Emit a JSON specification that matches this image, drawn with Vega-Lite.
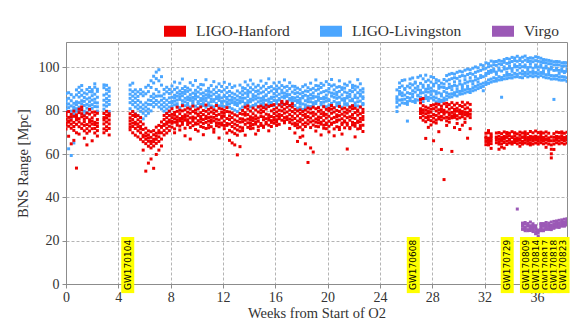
{
"$schema": "https://vega.github.io/schema/vega-lite/v6.json",
"width": 501, "height": 242,
"autosize": {"type": "none"},
"padding": {"left": 66, "top": 42, "right": 4, "bottom": 37},
"background": "white",
"config": {
 "view": {"stroke": "#8c8c8c", "strokeWidth": 1},
 "font": "Liberation Serif",
 "axis": {"grid": true, "gridDash": [3, 2], "gridColor": "#b4b4b4", "domainColor": "#8c8c8c", "tickColor": "#8c8c8c", "tickSize": 4, "labelFont": "Liberation Serif", "labelFontSize": 14, "labelColor": "#333", "titleFont": "Liberation Serif", "titleFontSize": 14.5, "titleFontWeight": "normal", "titleColor": "#333", "labelFlush": false, "labelOverlap": false}
},
"datasets": {
 "ev": [{"i":0,"n":"GW170104","w":4.72},{"i":1,"n":"GW170608","w":26.55},{"i":2,"n":"GW170729","w":33.73},{"i":3,"n":"GW170809","w":35.2},{"i":4,"n":"GW170814","w":35.96},{"i":5,"n":"GW170817","w":36.7},{"i":6,"n":"GW170818","w":37.3},{"i":7,"n":"GW170823","w":38.0}],
 "pts": [
{"w":0.0,"H":[74.3,77.8,71.6,79.2,76.1,73.4],"L":[80.7,84.2,87.9,78.3,82.6,85.1]},
{"w":0.2,"H":[72.8,76.9,79.6,74.7,68.2,75.3],"L":[81.4,85.7,88.3,62.4,83.1,79.6]},
{"w":0.4,"H":[75.6,71.9,78.3,73.8,64.7,77.1],"L":[79.8,84.6,76.9,59.3,82.2,87.4]},
{"w":0.6,"H":[70.9,74.6,77.4,79.8,72.7,66.3],"L":[78.6,83.4,86.2,80.9,65.1,81.7]},
{"w":0.8,"H":[73.7,78.1,75.8,69.8,53.5,76.9],"L":[80.9,84.1,87.3,79.7,82.8,89.6]},
{"w":1.0,"H":[76.3,72.6,79.1,80.7,74.8,69.2],"L":[81.6,86.3,88.4,83.7,79.9,90.8]},
{"w":1.2,"H":[77.2,80.4,73.9,71.8,78.6,81.7],"L":[83.2,87.1,89.4,84.6,81.3,91.6]},
{"w":1.4,"H":[74.9,70.7,77.6,73.2,67.3,76.1],"L":[79.7,84.3,86.1,82.4,78.1,88.2]},
{"w":1.6,"H":[73.6,76.8,71.7,78.9,69.6,64.2],"L":[81.2,85.4,87.7,82.9,79.3,89.8]},
{"w":1.8,"H":[75.8,72.9,78.4,70.6,74.7,80.6],"L":[82.3,85.9,88.8,84.1,80.4,90.7]},
{"w":2.0,"H":[76.7,73.8,79.3,71.7,66.1,75.2],"L":[82.8,86.9,89.7,84.9,81.1,88.6]},
{"w":2.2,"H":[74.6,71.8,77.9,73.6,69.7,79.4],"L":[83.7,87.6,90.8,85.3,81.9,92.4]},
{"w":2.4,"H":[75.9,72.7,78.8,70.8,74.2,68.3],"L":[81.8,86.2,88.9,83.6,79.8,89.9]},
{"w":2.9,"H":[76.8,73.9,78.7,71.6,75.7,69.8],"L":[82.6,87.2,90.6,84.8,80.7,91.9]},
{"w":3.1,"H":[74.8,72.6,77.9,70.9,76.6,79.7],"L":[83.9,87.8,91.7,85.6,82.1,89.7]},
{"w":3.3,"H":[75.7,71.8,77.6,73.9,68.8,78.6],"L":[82.9,86.7,90.4,84.7,79.6,88.9]},
{"w":4.9,"H":[73.8,76.7,71.2,78.6,75.3,72.4],"L":[83.7,87.6,91.8,80.9,85.7,89.6]},
{"w":5.1,"H":[72.7,75.9,77.8,69.8,74.3,79.6],"L":[82.8,86.7,92.7,84.6,79.7,88.8]},
{"w":5.3,"H":[71.8,74.6,77.3,68.7,73.8,78.4],"L":[81.7,85.8,89.6,83.8,78.6,87.7]},
{"w":5.5,"H":[70.7,73.9,75.8,67.9,72.6,77.7],"L":[80.8,84.7,88.7,82.6,77.8,86.6]},
{"w":5.7,"H":[69.8,72.7,74.9,66.8,71.6,76.8],"L":[79.7,83.9,87.8,81.6,76.9,89.7]},
{"w":5.9,"H":[68.7,71.3,73.8,65.7,67.9,61.8],"L":[78.8,82.7,86.9,80.8,76.2,88.6]},
{"w":6.1,"H":[66.8,69.7,71.9,64.8,68.3,52.1],"L":[79.9,83.6,87.8,81.7,77.7,90.8]},
{"w":6.3,"H":[65.9,68.8,70.7,63.6,67.4,55.8],"L":[80.7,84.9,88.8,82.9,78.8,91.7]},
{"w":6.5,"H":[64.8,67.7,70.3,62.8,65.9,57.7],"L":[82.8,86.6,90.7,84.7,79.9,93.8]},
{"w":6.7,"H":[65.7,68.9,70.8,63.7,66.8,53.4],"L":[83.8,87.7,92.8,85.9,81.8,95.9]},
{"w":6.9,"H":[66.8,69.6,72.4,64.9,68.2,59.8],"L":[84.7,89.8,94.8,86.7,82.9,97.8]},
{"w":7.1,"H":[67.9,70.8,73.2,65.8,69.7,61.8],"L":[83.9,88.7,93.8,86.8,81.7,98.9]},
{"w":7.3,"H":[69.8,72.3,74.8,66.9,72.7,63.7],"L":[82.7,86.8,91.8,84.8,80.8,95.7]},
{"w":7.5,"H":[70.8,73.7,75.9,68.8,73.2,77.8],"L":[81.8,85.7,89.8,83.7,79.8,87.7]},
{"w":7.7,"H":[71.9,74.8,76.8,69.7,73.8,78.7],"L":[80.8,84.8,88.7,82.7,78.9,90.8]},
{"w":7.9,"H":[72.8,75.7,77.8,70.8,74.7,79.8],"L":[81.7,85.9,89.8,83.8,79.7,87.9]},
{"w":8.1,"H":[72.4,75.1,76.8,78.3,80.9,74.2],"L":[81.9,84.3,86.2,88.7,91.4,83.5]},
{"w":8.3,"H":[71.6,74.7,77.9,79.2,76.3,69.8],"L":[82.7,85.9,87.1,89.8,84.4,93.2]},
{"w":8.5,"H":[73.3,75.8,77.2,81.6,79.7,74.6],"L":[83.2,84.9,88.3,86.7,90.6,82.1]},
{"w":8.7,"H":[72.9,76.4,78.6,75.3,80.2,71.1],"L":[81.4,85.2,87.6,89.1,92.7,86.3]},
{"w":8.9,"H":[74.8,77.3,73.7,79.9,76.1,82.3],"L":[84.6,86.9,83.1,90.2,88.4,94.6]},
{"w":9.1,"H":[71.9,75.6,78.1,76.9,80.4,68.4],"L":[82.3,85.7,87.9,84.1,91.1,89.3]},
{"w":9.3,"H":[73.6,74.9,77.6,79.3,81.2,75.8],"L":[83.4,86.3,88.9,82.6,90.4,85.1]},
{"w":9.5,"H":[72.2,76.7,78.8,74.4,80.7,66.9],"L":[81.7,84.8,87.4,85.9,89.6,92.9]},
{"w":9.7,"H":[75.2,77.1,73.1,79.6,82.1,76.2],"L":[83.9,86.1,88.1,82.9,91.7,84.6]},
{"w":9.9,"H":[71.3,74.3,76.6,78.9,80.3,73.8],"L":[82.1,85.4,86.7,89.4,87.8,93.9]},
{"w":10.1,"H":[73.9,75.4,77.7,80.8,78.4,70.6],"L":[81.3,84.2,88.6,86.4,90.8,83.3]},
{"w":10.3,"H":[72.7,76.2,74.8,79.1,81.7,77.3],"L":[82.9,85.6,87.8,89.9,84.7,92.1]},
{"w":10.5,"H":[74.1,75.9,78.2,72.3,80.1,68.9],"L":[83.7,86.6,88.2,82.4,91.9,85.2]},
{"w":10.7,"H":[71.8,74.6,77.4,79.7,76.4,82.6],"L":[81.6,84.6,87.3,89.2,85.8,94.3]},
{"w":10.9,"H":[73.4,76.8,75.2,78.6,80.6,72.1],"L":[82.5,86.2,88.9,83.6,90.3,87.4]},
{"w":11.1,"H":[74.6,72.6,77.1,79.4,81.3,75.7],"L":[84.1,82.2,86.8,88.6,91.6,85.3]},
{"w":11.3,"H":[71.4,75.3,76.9,78.7,80.4,70.1],"L":[81.8,85.1,87.6,89.7,84.3,93.4]},
{"w":11.5,"H":[73.1,74.4,77.8,76.1,79.8,82.4],"L":[83.3,86.4,88.4,82.7,90.9,85.6]},
{"w":11.7,"H":[72.6,75.7,78.3,74.1,81.1,67.4],"L":[82.2,84.7,87.2,86.1,89.3,92.4]},
{"w":11.9,"H":[74.3,76.6,73.4,79.2,80.8,77.6],"L":[83.6,85.9,88.8,82.3,91.2,84.2]},
{"w":12.1,"H":[71.7,75.2,77.4,78.8,80.2,73.2],"L":[81.9,84.4,87.1,89.6,86.6,93.1]},
{"w":12.3,"H":[73.2,74.1,76.4,79.6,81.4,69.7],"L":[82.8,86.1,88.3,83.9,90.7,85.4]},
{"w":12.5,"H":[70.9,73.8,75.9,77.6,79.4,66.3],"L":[81.6,84.8,86.9,88.9,83.2,92.2]},
{"w":12.7,"H":[70.2,72.7,74.6,76.8,78.9,65.1],"L":[80.9,83.7,86.2,88.1,84.9,90.7]},
{"w":12.9,"H":[69.4,71.9,73.8,75.7,78.1,64.2],"L":[80.3,82.9,85.7,87.6,84.1,91.4]},
{"w":13.1,"H":[68.7,71.1,73.2,75.1,77.6,59.6],"L":[79.6,82.4,84.9,86.8,83.3,89.1]},
{"w":13.3,"H":[70.6,72.4,74.7,76.3,78.7,63.4],"L":[80.8,83.6,86.1,88.2,84.6,91.8]},
{"w":13.5,"H":[72.1,74.9,76.2,78.4,80.1,70.8],"L":[81.7,84.2,87.3,89.1,85.7,90.6]},
{"w":13.7,"H":[73.7,75.6,77.9,79.1,81.6,68.7],"L":[82.6,85.8,88.1,83.4,90.2,93.3]},
{"w":13.9,"H":[72.3,76.1,74.4,78.2,80.7,82.2],"L":[83.4,84.6,86.6,89.3,91.8,87.9]},
{"w":14.1,"H":[74.4,73.1,77.2,79.8,75.9,71.7],"L":[81.8,85.3,88.6,84.1,90.6,94.1]},
{"w":14.3,"H":[71.9,75.4,76.7,78.6,81.2,73.6],"L":[82.4,84.9,87.4,89.7,86.2,92.3]},
{"w":14.5,"H":[73.8,74.7,77.6,80.3,76.2,69.2],"L":[83.1,86.7,85.4,88.9,90.9,82.6]},
{"w":14.7,"H":[72.6,76.6,75.1,79.4,81.8,70.9],"L":[81.6,84.1,87.7,89.2,85.9,91.7]},
{"w":14.9,"H":[74.1,73.2,77.3,78.9,80.4,82.1],"L":[82.9,85.7,88.2,84.4,90.4,93.7]},
{"w":15.1,"H":[72.9,75.8,77.1,79.6,81.4,72.3],"L":[83.7,86.4,88.7,82.3,91.3,85.1]},
{"w":15.3,"H":[74.6,76.3,73.9,78.4,80.8,82.6],"L":[81.9,84.8,87.3,89.8,86.9,92.6]},
{"w":15.5,"H":[73.3,75.7,78.1,76.8,81.9,70.7],"L":[82.7,85.4,88.4,84.2,90.7,94.7]},
{"w":15.7,"H":[75.4,77.3,74.6,79.9,82.4,72.7],"L":[83.8,86.2,89.1,82.8,91.1,85.7]},
{"w":15.9,"H":[74.2,76.9,78.7,80.6,82.8,75.6],"L":[82.3,84.7,87.9,90.1,86.3,92.8]},
{"w":16.1,"H":[75.8,77.6,79.4,81.3,74.7,73.2],"L":[83.4,86.8,88.8,84.6,91.4,89.7]},
{"w":16.3,"H":[76.3,78.3,80.2,82.7,77.1,73.7],"L":[82.6,85.6,87.6,90.4,84.9,93.1]},
{"w":16.5,"H":[75.6,77.8,79.9,81.8,83.6,84.3],"L":[84.2,86.3,89.4,83.1,91.6,88.2]},
{"w":16.7,"H":[76.8,78.9,80.7,82.9,75.3,74.4],"L":[82.9,85.9,88.1,90.8,86.7,94.2]},
{"w":16.9,"H":[77.2,79.4,81.6,83.3,75.9,84.1],"L":[83.6,86.6,89.2,84.4,91.2,87.6]},
{"w":17.1,"H":[76.1,78.2,80.3,82.4,74.6,71.8],"L":[82.2,84.9,87.4,90.2,85.6,92.9]},
{"w":17.3,"H":[75.7,77.4,79.6,81.7,83.2,73.9],"L":[83.9,86.1,88.6,82.6,91.3,85.2]},
{"w":17.5,"H":[74.2,76.4,78.8,80.6,73.1,69.7],"L":[82.4,84.6,87.9,89.6,85.9,91.2]},
{"w":17.7,"H":[73.6,75.2,77.6,79.9,72.1,65.8],"L":[81.2,83.8,86.4,88.3,84.7,90.4]},
{"w":17.9,"H":[72.4,74.9,76.3,78.7,80.4,67.7],"L":[81.7,84.2,85.6,87.8,89.7,83.1]},
{"w":18.1,"H":[71.2,73.7,75.8,77.9,79.6,68.3],"L":[80.6,83.1,85.9,88.4,86.7,91.1]},
{"w":18.3,"H":[72.7,74.4,76.9,78.3,80.3,64.7],"L":[81.4,84.6,87.1,89.1,82.7,91.9]},
{"w":18.5,"H":[73.9,75.6,77.3,79.4,81.2,56.1],"L":[82.1,85.3,86.6,88.9,90.6,84.1]},
{"w":18.7,"H":[72.2,74.8,76.6,78.9,80.8,62.8],"L":[81.9,84.1,87.4,89.7,85.7,92.7]},
{"w":18.9,"H":[73.4,75.3,77.7,79.2,81.6,60.9],"L":[82.8,85.8,88.2,83.7,90.3,86.6]},
{"w":19.1,"H":[74.7,76.2,78.4,72.8,80.9,70.6],"L":[83.3,86.4,84.2,89.4,91.6,94.2]},
{"w":19.3,"H":[72.6,75.8,77.1,79.7,81.4,74.4],"L":[81.6,84.8,87.6,89.9,86.1,91.4]},
{"w":19.5,"H":[73.8,74.7,76.8,78.6,80.2,68.8],"L":[82.7,85.6,88.3,83.8,90.7,92.6]},
{"w":19.7,"H":[71.9,75.4,77.8,79.1,81.8,73.3],"L":[83.9,86.2,88.8,82.2,91.8,85.4]},
{"w":19.9,"H":[74.3,76.6,73.6,78.3,80.6,71.7],"L":[81.8,84.4,87.2,89.2,85.8,93.4]},
{"w":20.1,"H":[72.8,75.1,77.4,79.9,81.1,70.2],"L":[82.6,85.1,88.6,84.7,90.2,92.1]},
{"w":20.3,"H":[73.7,76.3,74.2,78.8,80.7,82.4],"L":[83.4,86.7,88.1,82.4,91.4,94.4]},
{"w":20.5,"H":[71.6,74.6,76.9,79.4,81.3,68.4],"L":[81.4,84.3,87.8,89.6,86.2,91.9]},
{"w":20.7,"H":[74.9,77.2,75.6,78.1,80.1,72.6],"L":[82.3,85.7,88.4,83.6,90.8,87.2]},
{"w":20.9,"H":[72.3,75.7,77.7,79.6,81.9,71.3],"L":[83.7,86.2,88.9,82.9,91.1,93.8]},
{"w":21.1,"H":[73.6,74.3,76.3,78.4,80.8,69.2],"L":[81.6,84.9,87.3,89.8,85.4,90.6]},
{"w":21.3,"H":[72.1,75.3,77.6,79.3,81.2,74.8],"L":[82.9,85.6,88.6,84.3,90.4,92.3]},
{"w":21.5,"H":[74.2,76.8,73.3,78.9,80.4,62.3],"L":[83.2,86.6,88.2,82.6,91.7,85.9]},
{"w":21.7,"H":[71.7,75.6,77.2,79.8,81.6,72.2],"L":[81.8,84.6,87.6,89.3,86.4,93.2]},
{"w":21.9,"H":[73.4,74.6,76.7,78.2,80.9,82.3],"L":[82.4,85.3,88.8,84.6,90.6,91.7]},
{"w":22.1,"H":[72.8,76.4,74.1,79.1,81.1,67.9],"L":[83.6,86.1,87.2,89.7,82.3,91.3]},
{"w":22.3,"H":[74.6,75.2,77.9,79.7,80.3,71.6],"L":[82.2,85.8,88.3,84.1,90.9,94.3]},
{"w":22.5,"H":[71.8,74.9,76.4,78.6,81.7,73.1],"L":[81.7,84.4,87.7,89.4,86.8,92.4]},
{"w":22.7,"H":[73.3,75.9,77.3,79.2,80.6,70.4],"L":[83.3,86.4,88.6,82.8,90.1,85.6]},
{"w":25.3,"L":[83.8,86.4,89.6,81.7,85.2,79.6]},
{"w":25.5,"L":[84.9,87.6,90.7,82.6,88.9,92.8]},
{"w":25.7,"L":[83.6,86.9,91.4,85.1,88.2,93.9]},
{"w":25.9,"L":[85.3,87.2,90.2,83.4,89.8,94.2]},
{"w":26.1,"L":[84.2,88.3,91.3,86.1,82.9,75.2]},
{"w":26.3,"L":[85.8,87.9,90.6,84.6,92.4,94.6]},
{"w":26.5,"L":[86.4,89.2,91.9,84.3,87.6,95.1]},
{"w":26.7,"L":[85.1,88.6,92.7,83.8,90.4,93.2]},
{"w":26.9,"L":[86.8,89.7,91.2,84.9,87.1,95.4]},
{"w":27.1,"H":[78.7,80.9,83.6,76.8,79.8,85.2],"L":[86.2,89.4,92.6,85.3,88.1,96.1]},
{"w":27.3,"H":[77.6,80.4,82.3,75.6,79.1,85.6],"L":[85.7,88.3,91.8,84.2,90.8,94.7]},
{"w":27.5,"H":[76.8,78.6,81.7,74.9,80.2,67.2],"L":[86.9,89.9,93.4,85.6,88.7,96.4]},
{"w":27.7,"H":[75.9,78.9,81.2,77.3,79.6,72.3],"L":[86.1,88.6,91.6,84.7,90.2,94.1]},
{"w":27.9,"H":[77.4,79.3,82.4,75.4,80.7,73.4],"L":[87.4,90.4,93.2,85.8,88.9,95.7]},
{"w":28.1,"H":[76.6,78.2,80.9,82.7,74.8,66.1],"L":[86.3,89.1,92.2,84.9,91.4,95.3]},
{"w":28.3,"H":[77.8,79.9,81.6,75.7,83.1,74.3],"L":[85.9,88.8,92.9,84.1,87.7,94.3]},
{"w":28.5,"H":[76.2,78.8,80.4,82.9,77.1,70.3],"L":[85.2,88.2,91.6,83.9,90.3,93.8]},
{"w":28.7,"H":[77.3,79.6,82.1,75.8,80.8,62.1],"L":[84.8,87.7,90.9,84.2,86.8,92.7]},
{"w":28.9,"H":[78.4,80.2,83.2,76.6,79.1,48.2],"L":[85.8,88.9,92.3,84.7,90.7,94.4]},
{"w":29.1,"H":[76.9,79.4,81.9,75.3,83.4,73.2],"L":[86.8,90.2,93.7,85.2,88.3,96.2]},
{"w":29.3,"H":[77.9,80.7,82.8,76.4,78.9,74.7],"L":[87.6,90.7,94.3,86.2,92.2,96.8]},
{"w":29.5,"H":[76.7,79.2,81.4,83.7,77.6,61.2],"L":[87.8,91.2,94.8,86.4,89.7,97.2]},
{"w":29.7,"H":[78.2,80.6,82.6,76.9,79.7,72.2],"L":[88.3,91.7,95.2,87.2,93.3,96.9]},
{"w":29.9,"H":[77.7,79.8,83.4,76.2,81.1,74.1],"L":[88.7,91.3,94.9,86.8,89.9,97.7]},
{"w":30.1,"H":[78.6,80.3,82.4,76.7,79.4,71.3],"L":[88.9,92.3,95.7,87.6,93.7,98.2]},
{"w":30.3,"H":[77.2,79.6,81.9,83.9,78.4,73.3],"L":[89.3,91.9,96.2,87.8,90.7,97.9]},
{"w":30.5,"H":[78.1,80.8,82.7,76.3,79.2,74.6],"L":[89.6,92.7,95.9,88.2,94.3,98.7]},
{"w":30.7,"H":[77.6,79.1,81.3,83.6,78.7,67.3],"L":[90.2,93.2,96.7,88.7,91.3,99.2]},
{"w":30.9,"H":[78.3,80.4,82.9,76.8,79.9,71.7],"L":[89.8,93.7,97.2,88.4,95.2,98.9]},
{"w":31.1,"L":[90.6,93.6,96.8,89.2,92.3,99.6]},
{"w":31.3,"L":[91.2,94.2,97.7,89.6,95.7,100.2]},
{"w":31.5,"L":[91.7,94.7,98.2,90.2,93.2,99.8]},
{"w":31.7,"L":[92.2,95.3,98.6,90.7,96.2,101.2]},
{"w":31.9,"L":[92.7,95.7,99.2,91.2,89.2,100.8]},
{"w":32.1,"H":[65.8,67.9,69.6,64.3,67.2],"L":[93.2,96.3,99.6,92.1,97.2,102.1]},
{"w":32.3,"H":[65.3,67.3,69.8,64.2,66.6,70.8],"L":[94.2,97.2,100.3,92.6,98.1,101.7]},
{"w":32.5,"H":[66.2,68.3,69.3,64.8,67.4,62.6],"L":[94.6,97.7,100.7,93.2,98.6,102.9]},
{"w":32.7,"L":[95.2,98.2,101.2,93.6,99.2,102.6]},
{"w":32.9,"H":[66.6,67.8,69.7,65.2,67.6],"L":[94.8,97.8,100.9,93.7,96.8,102.7]},
{"w":33.1,"H":[65.7,68.2,69.9,64.6,66.9,62.2],"L":[95.7,98.7,101.6,94.2,99.7,103.2]},
{"w":33.3,"H":[66.3,67.6,69.4,64.7,66.4,63.2],"L":[95.3,98.3,101.3,94.3,86.2,102.8]},
{"w":33.5,"H":[66.8,68.1,70.2,65.3,67.3,62.7],"L":[96.2,99.2,102.3,94.7,100.2,103.6]},
{"w":33.7,"H":[65.9,67.7,69.9,64.4,67.8,69.1],"L":[96.3,99.3,101.8,94.8,97.6,104.1]},
{"w":33.9,"H":[66.4,68.4,69.6,65.1,66.7],"L":[96.7,99.7,102.2,95.2,100.7,103.8]},
{"w":34.1,"H":[65.6,67.9,70.3,64.6,67.6,65.2],"L":[96.4,99.4,102.7,95.1,98.2,104.6]},
{"w":34.3,"H":[66.7,68.2,69.8,65.3,66.8,69.6],"L":[97.2,100.2,103.1,95.6,101.2,104.3]},
{"w":34.5,"H":[66.1,67.4,69.3,64.7,66.6],"L":[96.8,100.4,102.8,95.7,98.7,105.1],"V":[34.6]},
{"w":34.7,"H":[66.6,68.6,70.1,65.2,67.1,63.6],"L":[97.3,99.8,103.2,95.4,101.3,104.2]},
{"w":34.9,"H":[65.8,67.8,69.7,64.6,67.7],"L":[96.9,100.3,102.6,95.2,98.3,104.7],"V":[25.2,26.6,28.1,27.2]},
{"w":35.1,"H":[66.4,68.3,70.2,65.1,67.2,69.1],"L":[97.6,100.1,103.3,96.2,101.1,105.2],"V":[24.6,26.1,27.6,25.6,28.4]},
{"w":35.3,"H":[65.9,67.6,69.4,64.7,66.9],"L":[97.1,99.9,102.7,95.6,98.6,104.1],"V":[25.1,26.7,27.9,27.1,24.6]},
{"w":35.5,"H":[66.7,68.1,70.4,65.2,67.6,64.2],"L":[97.7,100.2,102.9,96.1,101.6,104.4],"V":[25.6,26.9,28.6,26.2,24.7]},
{"w":35.7,"H":[66.1,67.9,69.8,64.6,67.1],"L":[97.2,99.6,102.6,95.7,98.1,104.2],"V":[25.2,26.4,27.8,26.9,24.2]},
{"w":35.9,"H":[66.6,68.2,70.6,65.1,67.4],"L":[97.6,100.1,103.1,96.1,101.1,104.9],"V":[24.2,25.6,26.9,23.2,26.4]},
{"w":36.1,"H":[65.9,67.8,69.9,64.6,67.1],"L":[97.1,100.2,102.8,95.6,98.7,104.6],"V":[22.1,23.6,24.9,21.2,24.4]},
{"w":36.3,"H":[66.4,68.1,70.1,65.2,67.6,69.4],"L":[97.6,100.1,102.6,96.2,101.2,104.2],"V":[24.6,26.1,27.4,25.2,27.9]},
{"w":36.5,"H":[66.2,67.6,69.7,64.7,67.2],"L":[97.2,99.6,102.2,95.6,98.2,103.6],"V":[25.1,26.6,27.9,27.4,24.6]},
{"w":36.7,"H":[66.6,68.3,70.2,65.1,66.9,63.1],"L":[96.6,99.7,102.1,95.2,100.6,103.4],"V":[25.6,27.1,28.4,26.1,25.2]},
{"w":36.9,"H":[66.1,67.4,69.6,64.6,66.6],"L":[96.7,99.1,101.7,95.1,98.1,103.2],"V":[25.2,26.7,28.1,27.1,25.6]},
{"w":37.1,"H":[64.2,66.1,67.9,62.2,60.1,58.2],"L":[96.2,99.2,101.6,94.6,100.1,102.9],"V":[25.6,27.1,28.6,26.6,25.1]},
{"w":37.3,"H":[66.2,67.7,69.4,64.6,62.1],"L":[96.1,98.6,101.1,94.7,85.2,102.6],"V":[26.1,27.6,28.9,27.2,25.7]},
{"w":37.5,"H":[66.6,68.1,70.1,65.2,67.2],"L":[96.2,98.7,101.2,94.6,99.6,102.7],"V":[26.2,27.7,29.1,28.1,26.6]},
{"w":37.7,"H":[66.1,67.9,69.9,64.7,67.6],"L":[95.6,98.6,101.1,94.2,97.2,102.6],"V":[26.6,28.1,29.4,27.2,26.1]},
{"w":37.9,"H":[66.7,68.2,70.2,65.1,67.1,69.6],"L":[95.7,98.2,100.6,94.1,99.2,102.1],"V":[26.7,28.2,29.6,28.6,27.1]},
{"w":38.1,"H":[66.2,67.6,69.6,64.6,67.2],"L":[95.6,98.1,100.7,94.2,97.6,102.2],"V":[27.1,28.6,29.9,28.2,26.7]},
{"w":38.3,"H":[66.6,68.1,70.1,65.1,67.6],"L":[95.2,98.2,100.6,93.6,99.2,102.1],"V":[27.2,28.7,30.1,29.1,27.6]}
 ]
},
"layer": [
 {
  "data": {"name": "pts"},
  "transform": [
   {"fold": ["L", "H", "V"], "as": ["k", "v"]},
   {"filter": "isArray(datum.v)"},
   {"flatten": ["v"]}
  ],
  "mark": {"type": "point", "shape": "square", "filled": true, "size": 9, "opacity": 1, "clip": true},
  "encoding": {
   "x": {"field": "w", "type": "quantitative", "scale": {"domain": [0, 38.3], "nice": false, "zero": false},
    "axis": {"values": [0,4,8,12,16,20,24,28,32,36], "title": "Weeks from Start of O2", "labelPadding": 2, "titlePadding": 2}},
   "y": {"field": "v", "type": "quantitative", "scale": {"domain": [0, 111.7], "nice": false},
    "axis": {"values": [0,20,40,60,80,100], "title": "BNS Range [Mpc]", "labelPadding": 3, "titlePadding": 8}},
   "color": {"field": "k", "type": "nominal",
    "scale": {"domain": ["H", "L", "V"], "range": ["#ee0000", "#4ba6ff", "#9b59b6"]},
    "legend": {"orient": "none", "legendX": 98, "legendY": -22, "direction": "horizontal", "title": null,
     "symbolType": "M-1,-0.5H1V0.5H-1Z", "symbolSize": 484, "symbolStrokeWidth": 0, "symbolOpacity": 1,
     "labelFont": "Liberation Serif", "labelFontSize": 15.5, "labelColor": "#333", "labelOffset": 10, "columnPadding": 30,
     "labelExpr": "datum.label == 'H' ? 'LIGO-Hanford' : datum.label == 'L' ? 'LIGO-Livingston' : 'Virgo'"}},
   "order": {"field": "k", "type": "ordinal", "sort": "descending"}
  }
 },
 {"data": {"name": "ev"}, "transform": [{"filter": "datum.i == 0"}], "layer": [
  {"mark": {"type": "rule", "color": "#ffff00", "strokeWidth": 13, "strokeCap": "butt"}, "encoding": {"x": {"field": "w", "type": "quantitative"}, "y": {"datum": -4.2}, "y2": {"datum": 21.7}}},
  {"mark": {"type": "text", "angle": 270, "align": "left", "baseline": "middle", "font": "DejaVu Sans", "fontSize": 9, "color": "black"}, "encoding": {"x": {"field": "w", "type": "quantitative"}, "y": {"datum": -2.8}, "text": {"field": "n"}}}]},
 {"data": {"name": "ev"}, "transform": [{"filter": "datum.i == 1"}], "layer": [
  {"mark": {"type": "rule", "color": "#ffff00", "strokeWidth": 13, "strokeCap": "butt"}, "encoding": {"x": {"field": "w", "type": "quantitative"}, "y": {"datum": -4.2}, "y2": {"datum": 21.7}}},
  {"mark": {"type": "text", "angle": 270, "align": "left", "baseline": "middle", "font": "DejaVu Sans", "fontSize": 9, "color": "black"}, "encoding": {"x": {"field": "w", "type": "quantitative"}, "y": {"datum": -2.8}, "text": {"field": "n"}}}]},
 {"data": {"name": "ev"}, "transform": [{"filter": "datum.i == 2"}], "layer": [
  {"mark": {"type": "rule", "color": "#ffff00", "strokeWidth": 13, "strokeCap": "butt"}, "encoding": {"x": {"field": "w", "type": "quantitative"}, "y": {"datum": -4.2}, "y2": {"datum": 21.7}}},
  {"mark": {"type": "text", "angle": 270, "align": "left", "baseline": "middle", "font": "DejaVu Sans", "fontSize": 9, "color": "black"}, "encoding": {"x": {"field": "w", "type": "quantitative"}, "y": {"datum": -2.8}, "text": {"field": "n"}}}]},
 {"data": {"name": "ev"}, "transform": [{"filter": "datum.i == 3"}], "layer": [
  {"mark": {"type": "rule", "color": "#ffff00", "strokeWidth": 13, "strokeCap": "butt"}, "encoding": {"x": {"field": "w", "type": "quantitative"}, "y": {"datum": -4.2}, "y2": {"datum": 21.7}}},
  {"mark": {"type": "text", "angle": 270, "align": "left", "baseline": "middle", "font": "DejaVu Sans", "fontSize": 9, "color": "black"}, "encoding": {"x": {"field": "w", "type": "quantitative"}, "y": {"datum": -2.8}, "text": {"field": "n"}}}]},
 {"data": {"name": "ev"}, "transform": [{"filter": "datum.i == 4"}], "layer": [
  {"mark": {"type": "rule", "color": "#ffff00", "strokeWidth": 13, "strokeCap": "butt"}, "encoding": {"x": {"field": "w", "type": "quantitative"}, "y": {"datum": -4.2}, "y2": {"datum": 21.7}}},
  {"mark": {"type": "text", "angle": 270, "align": "left", "baseline": "middle", "font": "DejaVu Sans", "fontSize": 9, "color": "black"}, "encoding": {"x": {"field": "w", "type": "quantitative"}, "y": {"datum": -2.8}, "text": {"field": "n"}}}]},
 {"data": {"name": "ev"}, "transform": [{"filter": "datum.i == 5"}], "layer": [
  {"mark": {"type": "rule", "color": "#ffff00", "strokeWidth": 13, "strokeCap": "butt"}, "encoding": {"x": {"field": "w", "type": "quantitative"}, "y": {"datum": -4.2}, "y2": {"datum": 21.7}}},
  {"mark": {"type": "text", "angle": 270, "align": "left", "baseline": "middle", "font": "DejaVu Sans", "fontSize": 9, "color": "black"}, "encoding": {"x": {"field": "w", "type": "quantitative"}, "y": {"datum": -2.8}, "text": {"field": "n"}}}]},
 {"data": {"name": "ev"}, "transform": [{"filter": "datum.i == 6"}], "layer": [
  {"mark": {"type": "rule", "color": "#ffff00", "strokeWidth": 13, "strokeCap": "butt"}, "encoding": {"x": {"field": "w", "type": "quantitative"}, "y": {"datum": -4.2}, "y2": {"datum": 21.7}}},
  {"mark": {"type": "text", "angle": 270, "align": "left", "baseline": "middle", "font": "DejaVu Sans", "fontSize": 9, "color": "black"}, "encoding": {"x": {"field": "w", "type": "quantitative"}, "y": {"datum": -2.8}, "text": {"field": "n"}}}]},
 {"data": {"name": "ev"}, "transform": [{"filter": "datum.i == 7"}], "layer": [
  {"mark": {"type": "rule", "color": "#ffff00", "strokeWidth": 13, "strokeCap": "butt"}, "encoding": {"x": {"field": "w", "type": "quantitative"}, "y": {"datum": -4.2}, "y2": {"datum": 21.7}}},
  {"mark": {"type": "text", "angle": 270, "align": "left", "baseline": "middle", "font": "DejaVu Sans", "fontSize": 9, "color": "black"}, "encoding": {"x": {"field": "w", "type": "quantitative"}, "y": {"datum": -2.8}, "text": {"field": "n"}}}]}
]
}
